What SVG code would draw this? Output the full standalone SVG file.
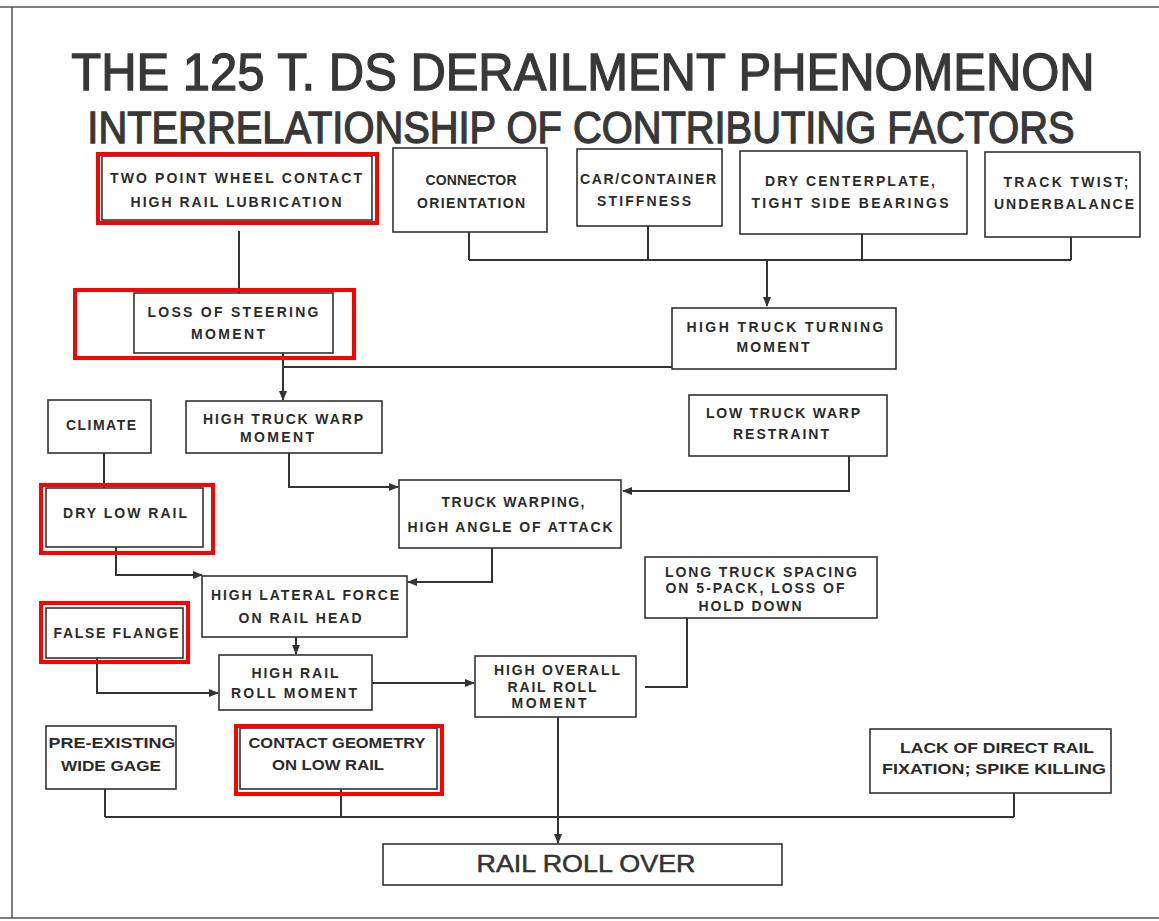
<svg xmlns="http://www.w3.org/2000/svg" width="1159" height="921" viewBox="0 0 1159 921">
<defs>
<style>
.bx{fill:#fff;stroke:#333;stroke-width:1.6}
.t{font-family:"Liberation Sans",Arial,sans-serif;font-weight:bold;font-size:14px;fill:#2b2b2b;text-anchor:middle}
.n{font-family:"Liberation Sans",Arial,sans-serif;font-weight:bold;font-size:15px;fill:#2b2b2b;text-anchor:middle}
.ttl{font-family:"Liberation Sans",Arial,sans-serif;font-weight:normal;fill:#383838;stroke:#383838;stroke-width:1.3;text-anchor:middle}
.ro{font-family:"Liberation Sans",Arial,sans-serif;font-weight:normal;font-size:24px;fill:#333;stroke:#333;stroke-width:0.5;text-anchor:middle}
.c{fill:none;stroke:#333;stroke-width:2}
.hl{fill:none;stroke:#ff0000;stroke-width:4}
</style>
<marker id="ah" markerUnits="userSpaceOnUse" markerWidth="10" markerHeight="8" refX="9" refY="4" orient="auto">
<path d="M0,0 L10,4 L0,8 Z" fill="#333"/>
</marker>
</defs>
<rect x="0" y="0" width="1159" height="921" fill="#fff"/>
<g id="frame" stroke="#555" fill="none" stroke-width="1.5">
<line x1="0" y1="7" x2="1159" y2="7"/>
<line x1="12" y1="7" x2="12" y2="918"/>
<line x1="0" y1="918" x2="1159" y2="918"/>
</g>
<g id="title">
<text class="ttl" transform="translate(583,90) scale(0.86,1)" x="0" y="0" font-size="52" textLength="1190" lengthAdjust="spacingAndGlyphs">THE 125 T. DS DERAILMENT PHENOMENON</text>
<text class="ttl" transform="translate(581,143) scale(0.86,1)" x="0" y="0" font-size="44" textLength="1148" lengthAdjust="spacingAndGlyphs">INTERRELATIONSHIP OF CONTRIBUTING FACTORS</text>
</g>
<g id="connectors">
<path class="c" d="M239,231 V293"/>
<path class="c" d="M469,232 V260 M648,226 V260 M862,234 V260 M1071,237 V260 M469,260 H1071"/>
<path class="c" d="M767,260 V306" marker-end="url(#ah)"/>
<path class="c" d="M672,367 H283"/>
<path class="c" d="M283,353 V400" marker-end="url(#ah)"/>
<path class="c" d="M104,453 V488"/>
<path class="c" d="M289,453 V487 H398" marker-end="url(#ah)"/>
<path class="c" d="M849,456 V491 H623" marker-end="url(#ah)"/>
<path class="c" d="M116,547 V575 H202" marker-end="url(#ah)"/>
<path class="c" d="M492,548 V582 H408" marker-end="url(#ah)"/>
<path class="c" d="M296,637 V654" marker-end="url(#ah)"/>
<path class="c" d="M97,658 V693 H218" marker-end="url(#ah)"/>
<path class="c" d="M372,683 H474" marker-end="url(#ah)"/>
<path class="c" d="M687,618 V687 H645"/>
<path class="c" d="M558,717 V843" marker-end="url(#ah)"/>
<path class="c" d="M105,789 V817 M341,789 V817 M1014,793 V817 M105,817 H1014"/>
</g>
<g id="n-two-point">
<rect class="bx" x="102" y="156" width="270" height="64"/>
<text class="t" x="236" y="183" textLength="252">TWO POINT WHEEL CONTACT</text>
<text class="t" x="236" y="207" textLength="211">HIGH RAIL LUBRICATION</text>
</g>
<g id="n-connector">
<rect class="bx" x="393" y="148" width="154" height="84"/>
<text class="t" x="471" y="185" textLength="91">CONNECTOR</text>
<text class="t" x="471" y="208" textLength="108">ORIENTATION</text>
</g>
<g id="n-car">
<rect class="bx" x="577" y="149" width="145" height="77"/>
<text class="t" x="648" y="184" textLength="136">CAR/CONTAINER</text>
<text class="t" x="644" y="206" textLength="94">STIFFNESS</text>
</g>
<g id="n-dry-centerplate">
<rect class="bx" x="740" y="151" width="227" height="83"/>
<text class="t" x="850" y="186" textLength="170">DRY CENTERPLATE,</text>
<text class="t" x="850" y="208" textLength="197">TIGHT SIDE BEARINGS</text>
</g>
<g id="n-track-twist">
<rect class="bx" x="985" y="152" width="155" height="85"/>
<text class="t" x="1066" y="187" textLength="125">TRACK TWIST;</text>
<text class="t" x="1064" y="209" textLength="140">UNDERBALANCE</text>
</g>
<g id="n-loss-steering">
<rect class="bx" x="134" y="293" width="199" height="60"/>
<text class="t" x="233" y="317" textLength="171">LOSS OF STEERING</text>
<text class="t" x="228" y="339" textLength="74">MOMENT</text>
</g>
<g id="n-turning">
<rect class="bx" x="672" y="308" width="224" height="61"/>
<text class="t" x="785" y="332" textLength="197">HIGH TRUCK TURNING</text>
<text class="t" x="773" y="352" textLength="73">MOMENT</text>
</g>
<g id="n-climate">
<rect class="bx" x="48" y="400" width="103" height="53"/>
<text class="t" x="101" y="430" textLength="70">CLIMATE</text>
</g>
<g id="n-warp-moment">
<rect class="bx" x="186" y="401" width="196" height="52"/>
<text class="t" x="283" y="424" textLength="160">HIGH TRUCK WARP</text>
<text class="t" x="277" y="442" textLength="74">MOMENT</text>
</g>
<g id="n-low-warp">
<rect class="bx" x="689" y="395" width="198" height="61"/>
<text class="t" x="783" y="418" textLength="154">LOW TRUCK WARP</text>
<text class="t" x="781" y="439" textLength="96">RESTRAINT</text>
</g>
<g id="n-dry-low-rail">
<rect class="bx" x="46" y="488" width="157" height="59"/>
<text class="t" x="125" y="518" textLength="124">DRY LOW RAIL</text>
</g>
<g id="n-truck-warping">
<rect class="bx" x="399" y="480" width="222" height="68"/>
<text class="t" x="513" y="507" textLength="143">TRUCK WARPING,</text>
<text class="t" x="510" y="532" textLength="205">HIGH ANGLE OF ATTACK</text>
</g>
<g id="n-lateral">
<rect class="bx" x="202" y="576" width="205" height="61"/>
<text class="t" x="305" y="600" textLength="188">HIGH LATERAL FORCE</text>
<text class="t" x="300" y="623" textLength="123">ON RAIL HEAD</text>
</g>
<g id="n-long-truck">
<rect class="bx" x="645" y="557" width="232" height="61"/>
<text class="t" x="761" y="577" textLength="192">LONG TRUCK SPACING</text>
<text class="t" x="755" y="593" textLength="179">ON 5-PACK, LOSS OF</text>
<text class="t" x="750" y="611" textLength="103">HOLD DOWN</text>
</g>
<g id="n-false-flange">
<rect class="bx" x="46" y="608" width="137" height="50"/>
<text class="t" x="116" y="638" textLength="125">FALSE FLANGE</text>
</g>
<g id="n-rail-roll">
<rect class="bx" x="219" y="655" width="153" height="55"/>
<text class="t" x="295" y="678" textLength="87">HIGH RAIL</text>
<text class="t" x="294" y="698" textLength="126">ROLL MOMENT</text>
</g>
<g id="n-overall">
<rect class="bx" x="475" y="656" width="161" height="61"/>
<text class="t" x="557" y="675" textLength="126">HIGH OVERALL</text>
<text class="t" x="552" y="692" textLength="89">RAIL ROLL</text>
<text class="t" x="549" y="708" textLength="75">MOMENT</text>
</g>
<g id="n-pre-existing">
<rect class="bx" x="46" y="726" width="130" height="63"/>
<text class="n" x="112" y="748" textLength="127" lengthAdjust="spacingAndGlyphs">PRE-EXISTING</text>
<text class="n" x="111" y="771" textLength="100" lengthAdjust="spacingAndGlyphs">WIDE GAGE</text>
</g>
<g id="n-contact-geometry">
<rect class="bx" x="240" y="728" width="197" height="61"/>
<text class="n" x="337" y="748" textLength="177" lengthAdjust="spacingAndGlyphs">CONTACT GEOMETRY</text>
<text class="n" x="328" y="770" textLength="112" lengthAdjust="spacingAndGlyphs">ON LOW RAIL</text>
</g>
<g id="n-lack">
<rect class="bx" x="870" y="729" width="241" height="64"/>
<text class="n" x="997" y="753" textLength="194" lengthAdjust="spacingAndGlyphs">LACK OF DIRECT RAIL</text>
<text class="n" x="994" y="774" textLength="224" lengthAdjust="spacingAndGlyphs">FIXATION; SPIKE KILLING</text>
</g>
<g id="n-rollover">
<rect class="bx" x="383" y="844" width="399" height="41"/>
<text class="ro" x="586" y="872" textLength="219" lengthAdjust="spacingAndGlyphs">RAIL ROLL OVER</text>
</g>
<g id="highlights">
<rect class="hl" x="98" y="154" width="279" height="69"/>
<rect class="hl" x="75" y="290" width="279" height="68"/>
<rect class="hl" x="41" y="485" width="172" height="68"/>
<rect class="hl" x="41" y="603" width="147" height="59"/>
<rect class="hl" x="236" y="726" width="206" height="68"/>
</g>
</svg>
